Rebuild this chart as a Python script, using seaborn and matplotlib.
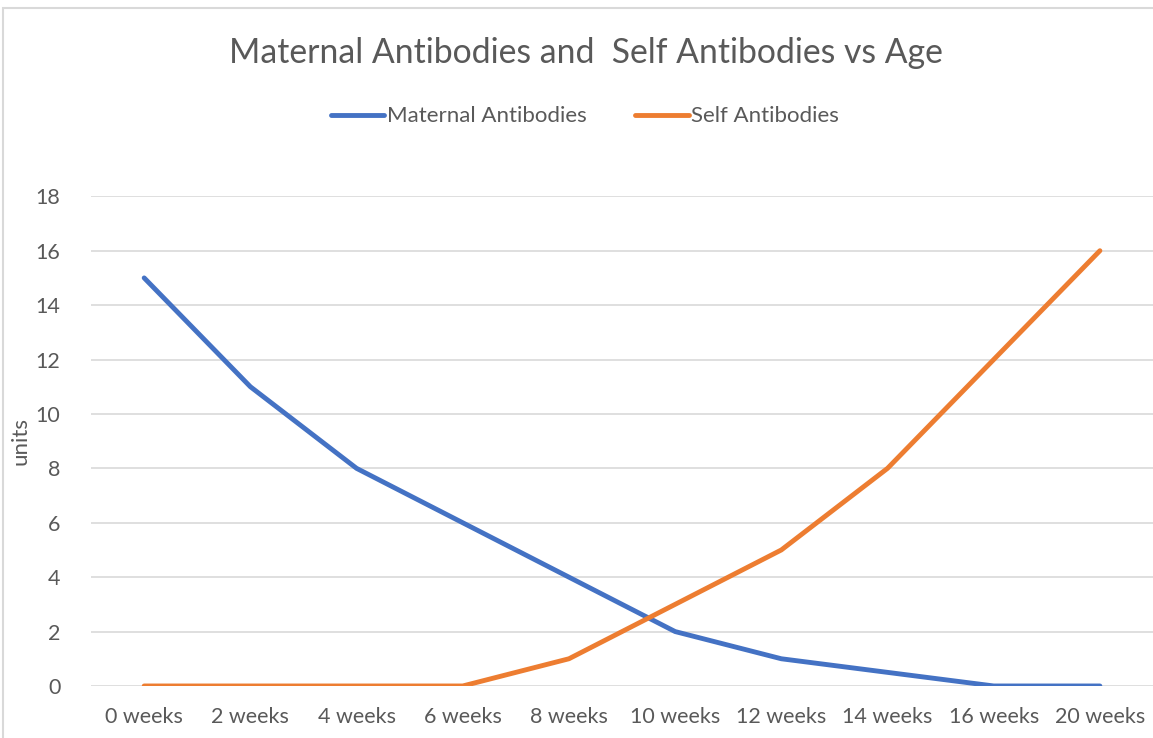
import matplotlib
matplotlib.use("Agg")
import matplotlib.pyplot as plt
import seaborn as sns
import pandas as pd
from matplotlib.patches import Rectangle

ages = ["0 weeks", "2 weeks", "4 weeks", "6 weeks", "8 weeks",
        "10 weeks", "12 weeks", "14 weeks", "16 weeks", "20 weeks"]
maternal = [15, 11, 8, 6, 4, 2, 1, 0.5, 0, 0]
self_ab = [0, 0, 0, 0, 1, 3, 5, 8, 12, 16]

df = pd.DataFrame({
    "age": ages * 2,
    "units": maternal + self_ab,
    "series": ["Maternal Antibodies"] * len(ages) + ["Self Antibodies"] * len(ages),
})

sns.set_style("white")
plt.rcParams["font.family"] = ["Lato", "DejaVu Sans"]
grey = "#595959"

fig = plt.figure(figsize=(11.53, 7.38), dpi=100)
ax = fig.add_axes([0.079, 0.0705, 0.921, 0.6635])

sns.lineplot(data=df, x="age", y="units", hue="series", sort=False,
             palette=["#4472C4", "#ED7D31"], linewidth=3.5, ax=ax, legend=True)

ax.set_ylim(0, 18)
ax.set_xlim(-0.5, len(ages) - 0.5)
ax.set_yticks(range(0, 19, 2))
ax.yaxis.grid(True, color="#D9D9D9", linewidth=1.2)
ax.set_axisbelow(True)
for s in ax.spines.values():
    s.set_visible(False)
ax.tick_params(axis="x", length=0, labelsize=15.5, colors=grey, pad=15)
ax.tick_params(axis="y", length=0, labelsize=15.5, colors=grey, pad=22)
ax.set_xlabel("")
ax.set_ylabel("units", fontsize=16, color=grey)
ax.yaxis.set_label_coords(-0.057, 0.5)

leg = ax.legend(loc="center", bbox_to_anchor=(0.465, 1.163), ncol=2, frameon=False,
                fontsize=16, handlelength=2.4, handletextpad=0.1, columnspacing=2.2)
for t in leg.get_texts():
    t.set_color(grey)

fig.text(0.508, 0.928, "Maternal Antibodies and  Self Antibodies vs Age",
         ha="center", va="center", fontsize=24.3, color=grey)

fig.patches.append(Rectangle((0.003, -0.1), 1.2, 1.089, transform=fig.transFigure,
                             fill=False, edgecolor="#D9D9D9", linewidth=1.5))

fig.savefig("out.png", dpi=100)
